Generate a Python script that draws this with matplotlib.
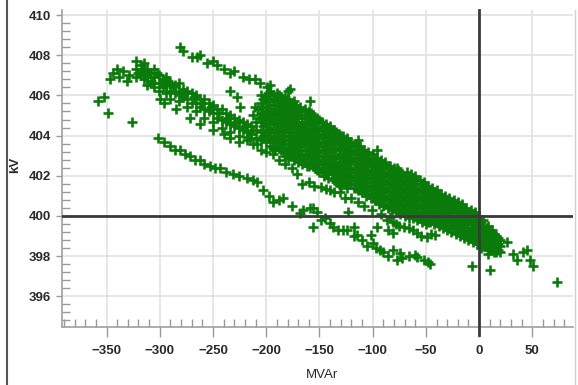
import matplotlib
matplotlib.use("Agg")
import matplotlib.pyplot as plt
from matplotlib.ticker import MultipleLocator, AutoMinorLocator
from matplotlib.lines import Line2D

# ---- data: reactive power (MVAr) vs bus voltage (kV) ----
# dense core band: each MVAr column with its kV readings
core_mvar = [-205, -200, -196, -192, -188, -184, -180, -176, -172, -168,
             -164, -160, -156, -152, -148, -144, -140, -136, -132, -128,
             -124, -120, -116, -112, -108, -104, -100, -96, -92, -88,
             -84, -80, -76, -72, -68, -64, -60, -56, -52, -48,
             -44, -40, -36, -32, -28, -24, -20, -16, -12, -8,
             -4, 0, 4, 8, 12, 16, 20]
core_kv = [
    [406.0, 405.6, 405.1, 404.7, 404.2, 403.8],
    [405.9, 405.4, 405.0, 404.6, 404.1, 403.7],
    [406.2, 405.7, 405.3, 404.9, 404.4, 404.0, 403.5],
    [405.8, 405.5, 405.0, 404.6, 404.2, 403.7, 403.3],
    [406.0, 405.6, 405.2, 404.8, 404.3, 403.9, 403.4],
    [405.7, 405.3, 404.9, 404.5, 404.0, 403.6, 403.2],
    [405.8, 405.4, 405.0, 404.6, 404.2, 403.8, 403.3, 402.9],
    [405.6, 405.2, 404.8, 404.4, 403.9, 403.5, 403.1],
    [405.5, 405.1, 404.7, 404.2, 403.8, 403.4, 402.9],
    [405.4, 405.0, 404.5, 404.1, 403.7, 403.3, 402.8],
    [405.3, 404.9, 404.4, 404.0, 403.6, 403.1, 402.7],
    [405.2, 404.8, 404.3, 403.9, 403.4, 403.0, 402.5],
    [405.0, 404.6, 404.2, 403.7, 403.3, 402.9, 402.5],
    [404.9, 404.4, 404.0, 403.6, 403.2, 402.7, 402.3],
    [404.7, 404.3, 403.9, 403.5, 403.0, 402.6, 402.2],
    [404.6, 404.2, 403.7, 403.3, 402.9, 402.5, 402.1],
    [404.5, 404.0, 403.6, 403.2, 402.7, 402.3],
    [404.3, 403.9, 403.4, 403.0, 402.6, 402.2, 401.8],
    [404.1, 403.7, 403.3, 402.9, 402.4, 402.0, 401.6],
    [404.0, 403.6, 403.1, 402.7, 402.3, 401.9],
    [403.9, 403.4, 403.0, 402.6, 402.1, 401.7, 401.4],
    [403.7, 403.3, 402.9, 402.4, 402.0, 401.6],
    [403.6, 403.2, 402.7, 402.3, 401.9, 401.4],
    [403.5, 403.0, 402.6, 402.2, 401.7, 401.3],
    [403.3, 402.9, 402.5, 402.0, 401.6, 401.2],
    [403.2, 402.8, 402.3, 401.9, 401.5, 401.1],
    [403.1, 402.6, 402.2, 401.8, 401.4, 400.9],
    [402.9, 402.5, 402.1, 401.6, 401.2, 400.8],
    [402.8, 402.4, 401.9, 401.5, 401.1, 400.7],
    [402.7, 402.2, 401.8, 401.4, 401.0, 400.6],
    [402.5, 402.1, 401.7, 401.2, 400.8, 400.5],
    [402.4, 402.0, 401.5, 401.1, 400.7, 400.4],
    [402.3, 401.8, 401.4, 401.0, 400.6, 400.3],
    [402.1, 401.7, 401.3, 400.9, 400.5, 400.2],
    [402.2, 401.8, 401.4, 401.0, 400.6, 400.2],
    [402.1, 401.7, 401.3, 400.9, 400.5, 400.1],
    [402.0, 401.6, 401.2, 400.8, 400.4, 400.0],
    [401.8, 401.4, 401.0, 400.6, 400.2, 399.9],
    [401.7, 401.3, 400.9, 400.5, 400.1, 399.8],
    [401.5, 401.1, 400.7, 400.3, 400.0, 399.7],
    [401.4, 401.0, 400.6, 400.2, 399.8],
    [401.3, 400.9, 400.5, 400.1, 399.7],
    [401.1, 400.8, 400.4, 400.0, 399.6],
    [401.0, 400.6, 400.3, 399.9, 399.5],
    [400.9, 400.5, 400.2, 399.8, 399.5],
    [400.8, 400.4, 400.0, 399.7, 399.4],
    [400.7, 400.3, 399.9, 399.6, 399.3],
    [400.6, 400.2, 399.8, 399.5, 399.2],
    [400.4, 400.1, 399.7, 399.4, 399.1],
    [400.3, 399.9, 399.6, 399.2, 398.9],
    [400.2, 399.8, 399.4, 399.1, 398.8],
    [400.0, 399.6, 399.3, 398.9, 398.7],
    [399.8, 399.4, 399.1, 398.8, 398.5],
    [399.5, 399.2, 398.9, 398.6, 398.3],
    [399.3, 399.0, 398.7, 398.4],
    [399.0, 398.7, 398.4, 398.2],
    [398.8, 398.5, 398.2],
]

# further readings inside the core band, between the columns above
core2_mvar = [-203, -198, -194, -190, -186, -182, -178, -174, -170, -166,
              -162, -158, -154, -150, -146, -142, -138, -134, -130, -126,
              -122, -118, -114, -110, -106, -102, -98, -94, -90, -86,
              -82, -78, -74, -70, -66, -62, -58, -54, -50, -46,
              -42, -38, -34, -30, -26, -22, -18, -14, -10, -6,
              -2, 2, 6, 10, 14, 18]
core2_kv = [
    [405.8, 405.4, 404.9, 404.5, 404.0],
    [406.1, 405.7, 405.2, 404.8, 404.3, 403.9],
    [406.0, 405.5, 405.1, 404.7, 404.2, 403.8, 403.4],
    [406.1, 405.6, 405.2, 404.8, 404.4, 403.9, 403.5],
    [405.9, 405.4, 405.0, 404.6, 404.1, 403.7, 403.3],
    [405.9, 405.5, 405.1, 404.7, 404.3, 403.8, 403.4, 403.0],
    [405.6, 405.2, 404.8, 404.4, 404.0, 403.6, 403.1],
    [405.7, 405.3, 404.9, 404.5, 404.0, 403.6, 403.2, 402.8],
    [405.3, 404.9, 404.4, 404.0, 403.6, 403.1, 402.7],
    [405.2, 404.7, 404.3, 403.9, 403.5, 403.0, 402.6],
    [405.0, 404.6, 404.2, 403.8, 403.3, 402.9, 402.5],
    [405.1, 404.7, 404.2, 403.8, 403.4, 403.0, 402.6],
    [404.8, 404.4, 403.9, 403.5, 403.1, 402.7, 402.4],
    [404.8, 404.3, 403.9, 403.5, 403.0, 402.6, 402.2],
    [404.5, 404.1, 403.7, 403.3, 402.8, 402.4, 402.0],
    [404.4, 404.0, 403.6, 403.2, 402.7, 402.3, 401.9],
    [404.3, 403.8, 403.4, 403.0, 402.5, 402.1],
    [404.2, 403.8, 403.4, 402.9, 402.5, 402.1, 401.7],
    [404.0, 403.6, 403.1, 402.7, 402.3, 401.9, 401.5],
    [403.8, 403.4, 403.0, 402.6, 402.1, 401.7],
    [403.7, 403.3, 402.8, 402.4, 402.0, 401.6],
    [403.5, 403.1, 402.7, 402.2, 401.8, 401.4],
    [403.4, 403.0, 402.6, 402.1, 401.7, 401.3],
    [403.3, 402.9, 402.4, 402.0, 401.6, 401.2],
    [403.1, 402.7, 402.3, 401.9, 401.4, 401.0],
    [402.9, 402.5, 402.1, 401.7, 401.3, 400.9],
    [402.9, 402.4, 402.0, 401.6, 401.2, 400.8],
    [402.7, 402.3, 401.9, 401.5, 401.0, 400.6],
    [402.6, 402.2, 401.7, 401.3, 400.9, 400.5],
    [402.4, 402.0, 401.6, 401.2, 400.8, 400.4],
    [402.3, 401.9, 401.5, 401.0, 400.6, 400.3],
    [402.2, 401.8, 401.3, 400.9, 400.5, 400.2],
    [402.0, 401.6, 401.2, 400.8, 400.4, 400.1],
    [402.0, 401.6, 401.2, 400.8, 400.4, 400.0],
    [401.9, 401.5, 401.1, 400.7, 400.3, 399.9],
    [401.9, 401.5, 401.1, 400.7, 400.3, 399.9],
    [401.8, 401.3, 400.9, 400.5, 400.1, 399.8],
    [401.6, 401.2, 400.8, 400.4, 400.0, 399.7],
    [401.5, 401.1, 400.7, 400.3, 399.9, 399.6],
    [401.3, 400.9, 400.5, 400.1, 399.7],
    [401.2, 400.8, 400.4, 400.0, 399.6],
    [401.1, 400.7, 400.3, 399.9, 399.5],
    [400.9, 400.5, 400.2, 399.8, 399.4],
    [400.8, 400.4, 400.0, 399.7, 399.3],
    [400.7, 400.3, 399.9, 399.6, 399.2],
    [400.6, 400.2, 399.8, 399.4, 399.1],
    [400.5, 400.1, 399.7, 399.3, 399.0],
    [400.3, 399.9, 399.6, 399.2, 398.9],
    [400.2, 399.8, 399.4, 399.1, 398.8],
    [400.1, 399.7, 399.3, 399.0, 398.7],
    [399.9, 399.5, 399.2, 398.9, 398.6],
    [399.7, 399.3, 399.0, 398.6, 398.4],
    [399.4, 399.1, 398.8, 398.5],
    [399.2, 398.9, 398.6, 398.3],
    [399.1, 398.8, 398.5, 398.2],
    [398.9, 398.6, 398.3],
]

# upper-left band
upper_mvar = [-322, -322, -322, -318, -318, -315, -315, -315, -312, -312, -312,
              -308, -308, -305, -305, -305, -301, -301, -301, -297, -297,
              -294, -294, -294, -290, -290, -290, -286, -286, -282, -282, -282,
              -278, -278, -274, -274, -274, -270, -270, -266, -266, -266,
              -262, -262, -258, -258, -258, -254, -254, -250, -250, -250,
              -246, -246, -242, -242, -242, -238, -238, -234, -234, -234,
              -230, -230, -226, -226, -226, -222, -222, -218, -218, -218,
              -214, -214, -210, -210, -210,
              -320, -316, -310, -306, -303, -299, -292, -288, -280, -276,
              -268, -260, -252, -244, -236, -228, -220, -212,
              -208, -212, -209, -215, -207, -211]
upper_kv = [407.7, 407.3, 406.9, 407.5, 407.0, 407.6, 407.2, 406.8, 407.3, 406.9, 406.5,
            407.1, 406.7, 407.3, 406.9, 406.4, 407.0, 406.6, 406.2, 406.8, 406.4,
            406.9, 406.5, 406.1, 406.6, 406.2, 405.8, 406.5, 406.1, 406.6, 406.2, 405.7,
            406.3, 405.9, 406.2, 405.8, 405.4, 406.1, 405.6, 406.0, 405.6, 405.2,
            405.8, 405.4, 405.8, 405.3, 404.9, 405.6, 405.2, 405.5, 405.1, 404.7,
            405.3, 404.9, 405.3, 404.8, 404.4, 405.1, 404.7, 405.0, 404.6, 404.2,
            404.9, 404.5, 404.8, 404.4, 404.0, 404.7, 404.3, 404.6, 404.2, 403.8,
            404.5, 404.1, 404.7, 404.3, 403.9,
            407.1, 407.3, 407.1, 406.6, 407.1, 406.6, 406.7, 406.4, 406.0, 406.1,
            405.9, 405.6, 405.4, 405.1, 404.9, 404.7, 404.5, 404.3,
            405.3, 405.0, 403.6, 403.9, 404.9, 405.4]

# thin top band
top_mvar = [-281, -278, -270, -265, -262, -256, -250, -246, -240, -234,
            -230, -222, -216, -211, -206, -199, -196, -180, -178, -159]
top_kv = [408.4, 408.2, 407.9, 407.9, 408.0, 407.6, 407.7, 407.5, 407.3, 407.1,
          407.2, 406.9, 406.8, 406.8, 406.6, 406.4, 406.5, 406.2, 406.3, 405.7]

# far-left group
left_mvar = [-344, -338, -335, -331, -340, -347, -358, -352, -349, -326, -329]
left_kv = [407.1, 406.9, 407.2, 406.7, 407.3, 406.8, 405.7, 405.9, 405.1, 404.7, 407.0]

# second band between upper-left and core
mid_mvar = [-300, -296, -285, -272, -262, -250, -240, -234, -226, -225, -218,
            -212, -205, -200, -194, -188, -182, -176, -234, -227]
mid_kv = [405.8, 405.6, 405.3, 404.9, 404.6, 404.3, 404.1, 403.9, 403.7, 405.4, 403.95,
          403.6, 403.3, 403.2, 403.1, 402.8, 402.6, 402.4, 406.2, 405.9]

# lower band
low_mvar = [-302, -296, -290, -286, -281, -276, -272, -267, -262, -258, -253,
            -248, -243, -238, -231, -226, -218, -212, -209, -203, -197, -194,
            -188, -184, -176, -168, -165, -159, -156, -152, -149, -145, -140,
            -137, -133, -128, -124, -118, -115, -110, -105, -100, -97, -93,
            -90, -86, -81, -77, -74, -72, -66, -60, -58, -52, -48, -46]
low_kv = [403.9, 403.7, 403.5, 403.3, 403.3, 403.1, 403.0, 402.8, 402.8, 402.6, 402.5,
          402.4, 402.4, 402.2, 402.1, 402.0, 401.9, 401.8, 401.7, 401.3, 401.0, 400.7,
          400.8, 400.9, 400.5, 400.15, 400.3, 400.4, 400.4, 400.2, 399.8, 399.9, 399.65,
          399.45, 399.3, 399.3, 399.3, 399.0, 399.05, 398.8, 398.5, 398.65, 398.4, 398.3,
          398.2, 398.0, 398.3, 397.8, 398.15, 397.9, 398.0, 398.05, 397.96, 397.8, 397.7, 397.6]

# band crossing the 400 kV line
cross_mvar = [-171, -166, -160, -155, -149, -144, -140, -136, -131, -126, -120,
              -114, -123, -108, -101, -96, -92, -87, -84, -81, -78, -75, -71,
              -66, -62, -58, -55, -49, -45, -41, -39, -102, -86, -81, -118, -156]
cross_kv = [402.1, 401.6, 401.7, 401.5, 401.45, 401.35, 401.3, 401.2, 401.2, 400.9, 400.9,
            400.7, 400.2, 400.5, 400.3, 399.45, 400.1, 399.8, 399.95, 399.7, 399.6, 399.5, 399.45,
            399.4, 399.3, 399.15, 399.0, 398.95, 399.1, 399.05, 399.65, 399.05, 399.3, 399.15, 399.45, 399.45]

# scattered points toward positive MVAr
tail_mvar = [26, 32, 36, 41, 45, 48, 51, 73, -7, 10, 8, -114, -96, -77]
tail_kv = [398.7, 398.1, 397.8, 398.2, 398.3, 397.8, 397.5, 396.7, 397.5, 397.3, 398.1, 403.8, 403.3, 402.4]

x_ticks = [-350, -300, -250, -200, -150, -100, -50, 0, 50]
y_ticks = [396, 398, 400, 402, 404, 406, 408, 410]

# ---- assemble points ----
mvar, kv = [], []
for xs_col, ys_col in [(core_mvar, core_kv), (core2_mvar, core2_kv)]:
    for x, col in zip(xs_col, ys_col):
        mvar += [x] * len(col)
        kv += col
for xs, ys in [(upper_mvar, upper_kv), (top_mvar, top_kv), (left_mvar, left_kv),
               (mid_mvar, mid_kv), (low_mvar, low_kv), (cross_mvar, cross_kv),
               (tail_mvar, tail_kv)]:
    mvar += xs
    kv += ys

# ---- figure ----
plt.rcParams['font.family'] = ['Liberation Sans', 'DejaVu Sans']
fig = plt.figure(figsize=(5.78, 3.85), dpi=100)
ax = fig.add_axes([0.107, 0.151, 0.884, 0.823])

ax.set_xlim(-392, 88)
ax.set_ylim(394.48, 410.25)

ax.grid(True, which='major', color='#e4e4e4', linewidth=1.3, zorder=0)
ax.set_axisbelow(True)

ax.plot(mvar, kv, linestyle='none', marker='+', markersize=6.5,
        markeredgewidth=1.9, color='#0a7b0a', zorder=3)

# reference lines at 0 MVAr and 400 kV
ax.axhline(400, color='#3a3a3a', linewidth=2.0, zorder=4)
vline = Line2D([0, 0], [394.1, 410.25], color='#3a3a3a', linewidth=2.0,
               transform=ax.transData, clip_on=False, zorder=4)
ax.add_line(vline)

ax.xaxis.set_minor_locator(MultipleLocator(10))
ax.yaxis.set_minor_locator(AutoMinorLocator(5))
ax.set_xticks(x_ticks)
ax.set_yticks(y_ticks)

ax.tick_params(axis='both', which='major', direction='out', width=1,
               color='#9a9a9a', labelsize=9.5, labelcolor='#2a2a2a')
ax.tick_params(axis='x', which='major', pad=6, length=7)
ax.tick_params(axis='y', which='major', pad=4, length=4)
ax.tick_params(axis='both', which='minor', direction='in', length=6,
               width=1, color='#9a9a9a')
for lbl in ax.get_xticklabels() + ax.get_yticklabels():
    lbl.set_fontweight('bold')

for side in ['top', 'right']:
    ax.spines[side].set_visible(False)
for side in ['left', 'bottom']:
    ax.spines[side].set_color('#a0a0a0')
    ax.spines[side].set_linewidth(1.2)

ax.set_xlabel('MVAr', fontsize=9.5, color='#2a2a2a', va='center')
ax.xaxis.set_label_coords(0.509, -0.151)
ax.set_ylabel('kV', fontsize=9.5, color='#2a2a2a', fontweight='bold', va='center')
ax.yaxis.set_label_coords(-0.092, 0.511)

# outer frame lines
fig.add_artist(Line2D([7 / 578, 7 / 578], [0, 1], color='#555555', linewidth=1.5,
                      transform=fig.transFigure))
fig.add_artist(Line2D([575 / 578, 575 / 578], [0, 0.974], color='#d0d0d0', linewidth=1.0,
                      transform=fig.transFigure))

fig.savefig('out.png', dpi=100)
